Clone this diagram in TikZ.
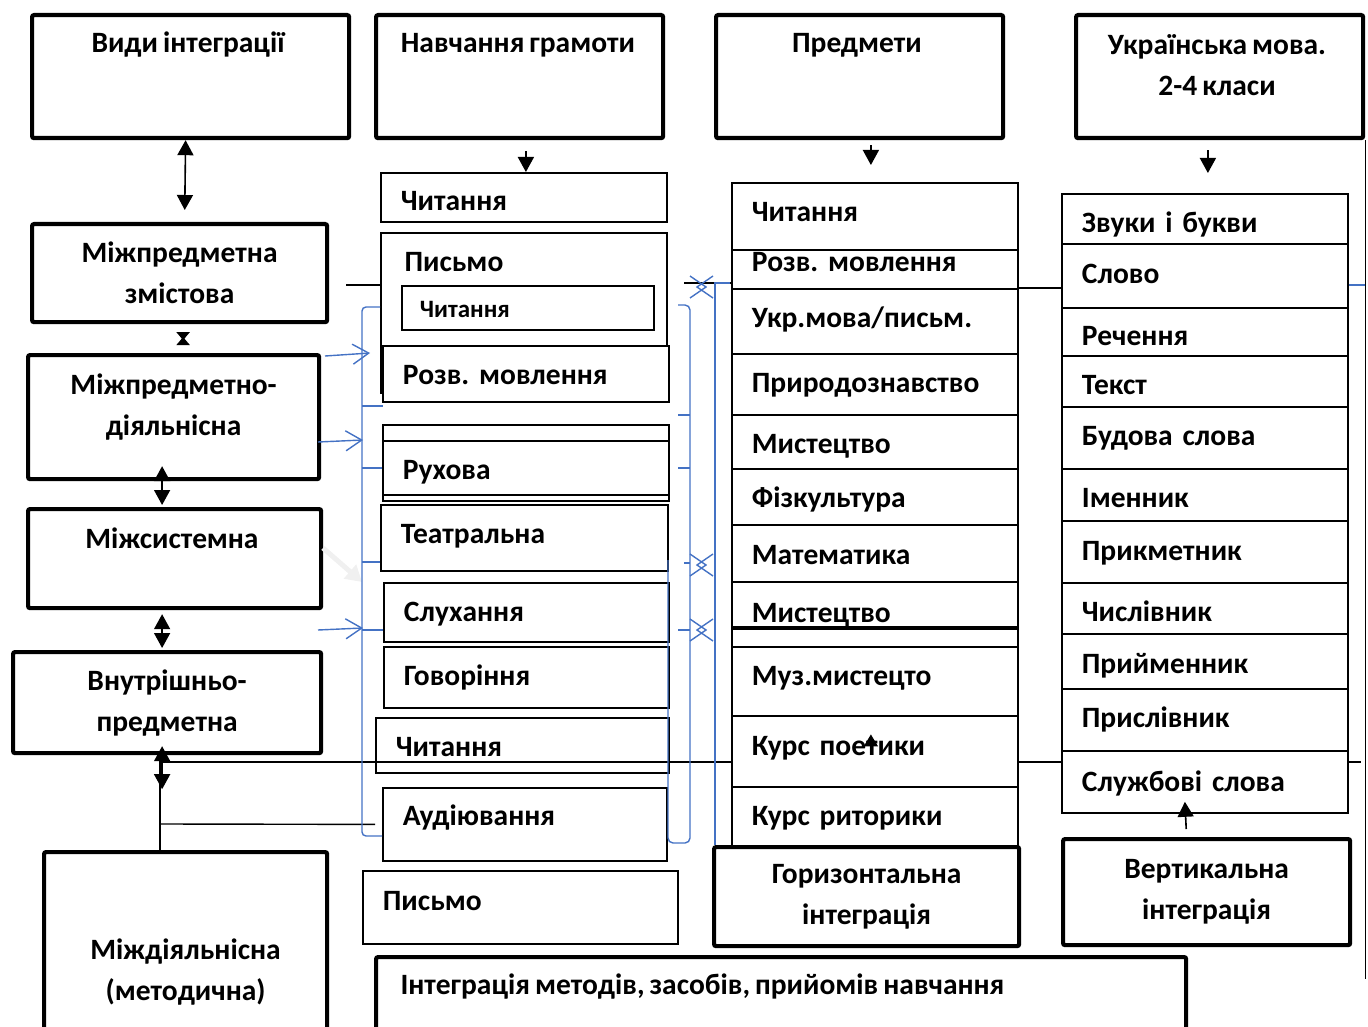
\documentclass[tikz,border=0pt]{standalone}
\usepackage{fontspec}
\setmainfont{Carlito}[WordSpace=0.75]
\usetikzlibrary{arrows.meta}
\definecolor{lineblue}{RGB}{68,114,196}
\newcommand{\diagfont}{\fontsize{29.5}{41}\selectfont\bfseries\frenchspacing}
\newcommand{\diagsmall}{\fontsize{25}{30}\selectfont\bfseries}

\tikzset{
  hbox/.style={draw, line width=4.2pt, rounded corners=2pt, fill=white, anchor=north west, align=center, inner sep=0pt, font=\diagfont},
  rbox/.style={draw, line width=1.8pt, fill=white, anchor=north west, align=left, inner xsep=20pt, inner ysep=0pt, text width=246pt, text height=19pt, text depth=6pt, font=\diagfont},
  lbl/.style={font=\diagfont, align=center},
  arr/.style={line width=1.6pt, -{Triangle[length=15pt,width=16pt]}},
  darr/.style={line width=1.6pt, {Triangle[length=15pt,width=16pt]}-{Triangle[length=15pt,width=16pt]}},
  bline/.style={draw=lineblue, line width=1.4pt},
  barr/.style={bline, -{Straight Barb[length=16pt,width=20pt]}},
}

\begin{document}
\begin{tikzpicture}[x=1pt,y=-1pt]
\clip (0,0) rectangle (1368,1027);

% lines behind the boxes
\coordinate (j1) at (160,762);
\coordinate (j2) at (1361,762);
\coordinate (j3) at (160,824);
\coordinate (k0) at (346,285);
\coordinate (k1) at (684,283);
\draw[line width=1.4pt] (j1) -- (j2);

% column 1
\node[hbox, minimum width=317pt, minimum height=123pt] (vydy) at (30,13) {};
\node[lbl] (vydyt) at (188,45) {Види інтеграції};
\node[hbox, minimum width=295pt, minimum height=98pt] (mzm) at (30,222) {Міжпредметна\\змістова};
\node[hbox, minimum width=291pt, minimum height=124pt, text depth=25pt] (mdi) at (26,353) {Міжпредметно-\\діяльнісна};
\node[hbox, minimum width=293pt, minimum height=99pt] (msys) at (26,507) {};
\node[lbl] (msyst) at (172,538) {Міжсистемна};
\node[hbox, minimum width=308pt, minimum height=101pt] (vnutr) at (11,650) {Внутрішньо-\\предметна};
\node[hbox, minimum width=283pt, minimum height=240pt] (mdial) at (42,850) {Міждіяльнісна\\(методична)};

% column 2
\node[hbox, minimum width=287pt, minimum height=123pt] (navch) at (374,13) {};
\node[lbl] (navcht) at (518,45) {Навчання грамоти};
\node[rbox, minimum height=49pt, text height=33pt] (gchyt) at (380,172) {Читання};
\node[rbox, minimum height=160pt] (gpys) at (380,232) {};
\node[lbl, anchor=west] (gpyst) at (401,262) {Письмо};
\node[rbox, minimum height=44pt, inner xsep=18pt, text width=216pt, font=\diagsmall, text height=24pt, text depth=5pt] (gpysin) at (401,285) {Читання};
\node[rbox, minimum height=56pt, text height=28pt] (grozv) at (382,345) {Розв. мовлення};
\node[rbox, minimum height=76pt] (gblank) at (382,424) {};
\node[rbox, minimum height=54pt, text height=30pt] (grukh) at (382,440) {Рухова};
\node[rbox, minimum height=66pt, text width=247pt, text depth=7pt] (gteatr) at (380,504) {Театральна};
\node[rbox, minimum height=59pt, text width=245pt, text height=24pt] (gslukh) at (383,582) {Слухання};
\node[rbox, minimum height=61pt, text width=245pt, text height=23pt] (ghovor) at (383,646) {Говоріння};
\node[rbox, minimum height=55pt, text width=253pt, text height=29pt, fill=none] (gchyt2) at (375,717) {Читання};
\node[rbox, minimum height=73pt, text width=244pt, text depth=16pt] (gaud) at (382,787) {Аудіювання};
\node[rbox, minimum height=73pt, text width=275pt, text depth=12pt] (gpys2) at (362,870) {Письмо};

% column 3
\node[hbox, minimum width=287pt, minimum height=123pt] (predm) at (714,13) {};
\node[lbl] (predmt) at (857,45) {Предмети};
\node[rbox, minimum height=67pt, text height=17pt] (p1) at (731,182) {Читання};
\node[rbox, minimum height=39pt, text depth=14pt] (p2) at (731,249) {Розв. мовлення};
\node[rbox, minimum height=65pt] (p3) at (731,288) {Укр.мова/письм.};
\node[rbox, minimum height=61pt, text height=23pt] (p4) at (731,353) {Природознавство};
\node[rbox, minimum height=54pt, text height=30pt] (p5) at (731,414) {Мистецтво};
\node[rbox, minimum height=56pt, text height=28pt] (p6) at (731,468) {Фізкультура};
\node[rbox, minimum height=57pt, text height=29pt] (p7) at (731,524) {Математика};
\node[rbox, minimum height=45pt, text height=41pt] (p8) at (731,581) {Мистецтво};
\node[rbox, minimum height=20pt, fill=none] (p8s) at (731,626) {};
\node[rbox, minimum height=69pt, text depth=10pt] (p9) at (731,646) {Муз.мистецто};
\node[rbox, minimum height=71pt, text depth=10pt] (p10) at (731,715) {Курс поетики};
\node[rbox, minimum height=59pt, text height=25pt] (p11) at (731,786) {Курс риторики};
\node[hbox, minimum width=305pt, minimum height=99pt] (horiz) at (712,845) {Горизонтальна\\інтеграція};

% column 4
\node[hbox, minimum width=287pt, minimum height=123pt] (ukr) at (1074,13) {};
\node[lbl] (ukrt) at (1217,65) {Українська мова.\\2-4 класи};
\node[rbox, minimum height=50pt, text height=34pt] (u1) at (1061,193) {Звуки і букви};
\node[rbox, minimum height=64pt, text height=22pt] (u2) at (1061,243) {Слово};
\node[rbox, minimum height=48pt, text height=34pt] (u3) at (1061,307) {Речення};
\node[rbox, minimum height=51pt, text height=33pt] (u4) at (1061,355) {Текст};
\node[rbox, minimum height=62pt, text height=22pt] (u5) at (1061,406) {Будова слова};
\node[rbox, minimum height=52pt, text height=32pt] (u6) at (1061,468) {Іменник};
\node[rbox, minimum height=62pt, text height=24pt] (u7) at (1061,520) {Прикметник};
\node[rbox, minimum height=51pt, text height=33pt] (u8) at (1061,582) {Числівник};
\node[rbox, minimum height=55pt, text height=31pt] (u9) at (1061,633) {Прийменник};
\node[rbox, minimum height=62pt, text height=22pt] (u10) at (1061,688) {Прислівник};
\node[rbox, minimum height=62pt, text height=26pt] (u11) at (1061,750) {Службові слова};
\node[hbox, minimum width=287pt, minimum height=106pt] (vert) at (1061,837) {Вертикальна\\інтеграція};

% bottom box
\node[hbox, minimum width=810pt, minimum height=150pt] (metod) at (374,955) {};
\node[lbl, anchor=west] (metodt) at (397,987) {Інтеграція методів, засобів, прийомів навчання};

% black connectors
\draw[line width=1.4pt] (k0) -- (k0 -| gpys.west);
\draw[line width=1.4pt] (k1) -- (k1 -| p2.west);
\draw[line width=1.4pt] (p3.north east) -- (p3.north east -| u2.west);
\draw[line width=1.4pt] (ukr.south east) -- ++(0,839);
\draw[line width=1.4pt] (vnutr.south -| j1) -- (mdial.north -| j1);
\draw[line width=1.4pt] (j3) -- ([xshift=-7pt]gaud.west);
\draw[darr, shorten >=12pt] ([xshift=-5pt]vydy.south) -- ([xshift=5pt]mzm.north);
\draw[line width=1.6pt, shorten <=8pt, shorten >=8pt, {Triangle[reversed,length=8pt,width=13pt]}-{Triangle[reversed,length=8pt,width=13pt]}] ([xshift=3.5pt]mzm.south) -- ([xshift=9.5pt]mdi.north);
\draw[darr] ([xshift=-11.5pt,yshift=15pt]mdi.south) -- ([xshift=-12.5pt,yshift=2pt]msys.north);
\draw[darr] ([xshift=-12.5pt,yshift=-4pt]msys.south) -- ([xshift=-5pt,yshift=2pt]vnutr.north);
\draw[darr] ([xshift=-5pt,yshift=9pt]vnutr.south) -- ([xshift=-5pt,yshift=-34pt]vnutr.south);
\draw[arr, shorten <=11pt] ([xshift=2pt]gchyt.north |- navch.south) -- ([xshift=2pt]gchyt.north);
\draw[arr, shorten <=5pt, shorten >=17pt] ([xshift=-4pt]p1.north |- predm.south) -- ([xshift=-4pt]p1.north);
\draw[arr, shorten <=10pt, shorten >=20pt] ([xshift=3pt]u1.north |- ukr.south) -- ([xshift=3pt]u1.north);
\draw[arr, shorten <=8pt] ([xshift=-20pt]vert.north) -- ([xshift=-20pt,yshift=12pt]u11.south);
\draw[line width=1.4pt, -{Triangle[length=12pt,width=14pt]}] ([xshift=-4pt,yshift=-2pt]p10.center) -- ([xshift=-4pt,yshift=17pt]p10.center);

% blue brackets and arrows
\draw[line width=5pt, gray!12, -{Triangle[length=16pt,width=18pt]}] (323,548) -- (362,582);
\draw[bline, rounded corners=4pt] (380,307) -- (362,307) -- (362,836) -- (382,836);
\draw[bline] (362,406) -- (383,406) (362,468) -- (382,468) (362,562) -- (380,562) (362,630) -- (383,630);
\draw[barr] (325,356) -- (370,353);
\draw[barr] (318,442) -- (363,440);
\draw[barr] (318,630) -- (363,628);
\draw[bline, rounded corners=5pt] (678,305) -- (690,305) -- (690,843) -- (668,843) -- (668,560);
\draw[bline] (678,415) -- (690,415) (678,468) -- (690,468) (678,630) -- (690,630) (684,563) -- (690,563);
\draw[bline] (730,283) -- (715,283) -- (715,845);
\foreach \y in {287,565,630}
  \draw[bline] (690,\y-11) -- (706,\y) -- (690,\y+11) (713,\y-11) -- (697,\y) -- (713,\y+11);
\draw[bline] (u2.east |- k0) -- (ukr.south east |- k0);
\end{tikzpicture}
\end{document}
